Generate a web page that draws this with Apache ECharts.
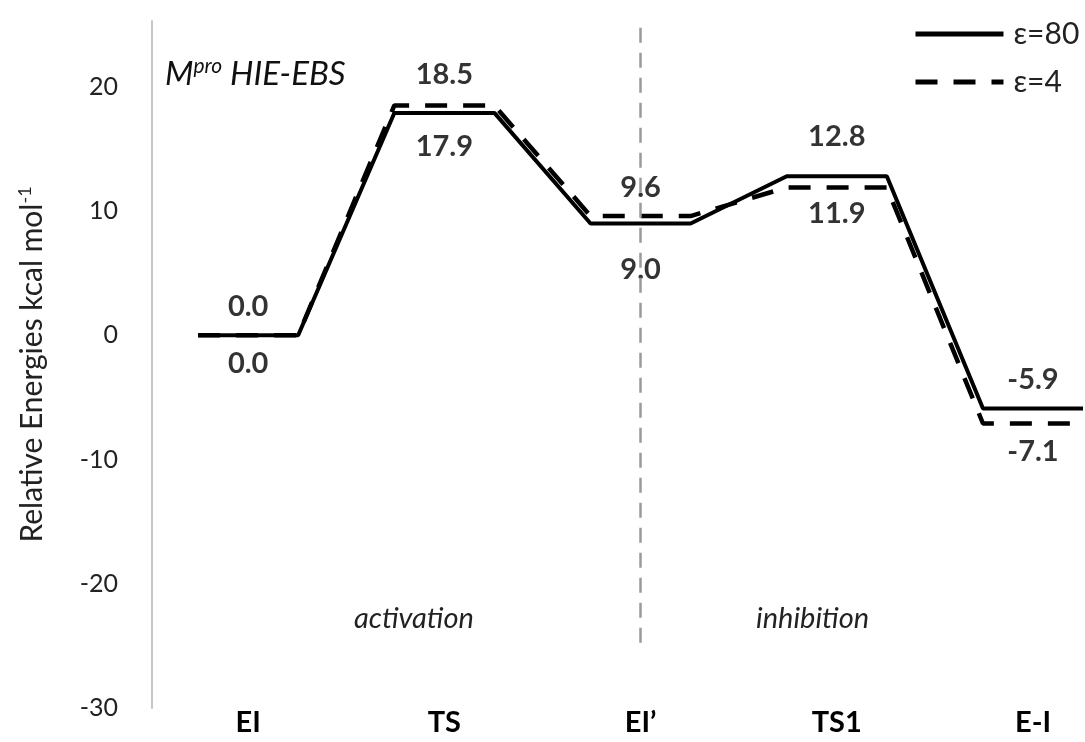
<!DOCTYPE html>
<html>
<head>
<meta charset="utf-8">
<script src="https://cdn.jsdelivr.net/npm/echarts@6/dist/echarts.min.js"></script>
<style>
html,body{margin:0;padding:0;background:#fff;}
#chart{width:1085px;height:742px;}
</style>
</head>
<body>
<div id="chart"></div>
<script>
// ---- data ----
const categories = ['EI', 'TS', 'EI\u2019', 'TS1', 'E-I'];
const eps80 = [0.0, 17.9, 9.0, 12.8, -5.9];
const eps4 = [0.0, 18.5, 9.6, 11.9, -7.1];
const seriesNames = ['\u03b5=80', '\u03b5=4'];
const yTicks = [-30, -20, -10, 0, 10, 20];
const dividerIndex = 2;             // EI' separates activation / inhibition
const dividerSpan = [24.75, -24.75]; // energy range of the divider
const phaseLabels = ['activation', 'inhibition'];

// ---- style ----
const HALF = 0.255; // half plateau width in category units
const FONT = 'Lato, "Open Sans", sans-serif';
const gap80 = [14, 19, 32, 25, 14];  // label distance from the plateau (px)
const gap4 = [14, 16, 14, 12, 14];

function plateauPath(vals) {
  const out = [];
  vals.forEach((v, i) => { out.push([i - HALF, v]); out.push([i + HALF, v]); });
  return out;
}
function labelPoints(vals, other, winTies, gaps) {
  return vals.map((v, i) => {
    const above = v > other[i] || (v === other[i] && winTies);
    return {
      value: [i, v],
      label: { position: above ? 'top' : 'bottom', distance: gaps[i] }
    };
  });
}

const chart = echarts.init(document.getElementById('chart'));
const labelStyle = {
  show: true,
  formatter: p => p.value[1].toFixed(1),
  fontFamily: FONT, fontWeight: 'bold', fontSize: 29, color: '#000'
};

chart.setOption({
  animation: false,
  backgroundColor: '#fff',
  grid: { left: 152, right: 0, top: 21, bottom: 34 },
  legend: {
    orient: 'vertical',
    left: 908, top: 14,
    itemWidth: 88, itemHeight: 14, itemGap: 18,
    data: seriesNames,
    itemStyle: { opacity: 0 },
    lineStyle: { width: 5 },
    textStyle: { fontFamily: FONT, fontSize: 30, color: '#222', padding: [0, 0, 0, 5] }
  },
  xAxis: {
    type: 'value', min: -0.49, max: 4.265,
    axisLine: { show: false }, axisTick: { show: false }, splitLine: { show: false },
    axisLabel: {
      customValues: categories.map((c, i) => i),
      formatter: v => categories[Math.round(v)] || '',
      fontFamily: FONT, fontWeight: 'bold', fontSize: 29, color: '#000', margin: 0
    }
  },
  yAxis: {
    type: 'value', min: -30, max: 25.3, interval: 10,
    axisLine: { show: true, onZero: false, lineStyle: { color: '#c6c6c6', width: 2 } },
    axisTick: { show: false }, splitLine: { show: false },
    axisLabel: {
      fontFamily: FONT, fontSize: 25, color: '#222', margin: 34,
      formatter: v => (yTicks.indexOf(v) >= 0 ? String(v) : '')
    },
    name: '{n|Relative Energies kcal mol}{s|-1}',
    nameLocation: 'middle', nameGap: 104, nameRotate: 90,
    nameTextStyle: {
      rich: {
        n: { fontFamily: FONT, fontSize: 30, color: '#222' },
        s: { fontFamily: FONT, fontSize: 18, color: '#222', verticalAlign: 'top', padding: [0, 0, 14, 0] }
      }
    }
  },
  graphic: [
    {
      type: 'text', left: 165, top: 56,
      style: {
        text: '{a|M}{b|pro}{a| HIE-EBS}',
        rich: {
          a: { fontFamily: FONT, fontStyle: 'italic', fontSize: 33, fill: '#111' },
          b: { fontFamily: FONT, fontStyle: 'italic', fontSize: 21, fill: '#111', padding: [0, 0, 15, 0] }
        }
      }
    },
    {
      type: 'text', left: 354, top: 604,
      style: { text: phaseLabels[0], fontFamily: FONT, fontStyle: 'italic', fontSize: 29, fill: '#222' }
    },
    {
      type: 'text', left: 756, top: 604,
      style: { text: phaseLabels[1], fontFamily: FONT, fontStyle: 'italic', fontSize: 29, fill: '#222' }
    }
  ],
  series: [
    {
      name: seriesNames[1], type: 'line',
      data: plateauPath(eps4), symbol: 'none', z: 2,
      lineStyle: { color: '#000', width: 4.5, type: [22, 16] },
      itemStyle: { color: '#000' },
      markLine: {
        silent: true, symbol: ['none', 'none'], label: { show: false },
        lineStyle: { color: '#9a9a9a', width: 2.5, type: [15, 10] },
        data: [[{ coord: [dividerIndex, dividerSpan[0]] }, { coord: [dividerIndex, dividerSpan[1]] }]]
      }
    },
    {
      name: seriesNames[0], type: 'line',
      data: plateauPath(eps80), symbol: 'none', z: 3,
      lineStyle: { color: '#000', width: 4, type: 'solid' },
      itemStyle: { color: '#000' }
    },
    {
      type: 'scatter', symbolSize: 0, silent: true,
      data: labelPoints(eps80, eps4, true, gap80), label: labelStyle
    },
    {
      type: 'scatter', symbolSize: 0, silent: true,
      data: labelPoints(eps4, eps80, false, gap4), label: labelStyle
    }
  ]
});
</script>
</body>
</html>
